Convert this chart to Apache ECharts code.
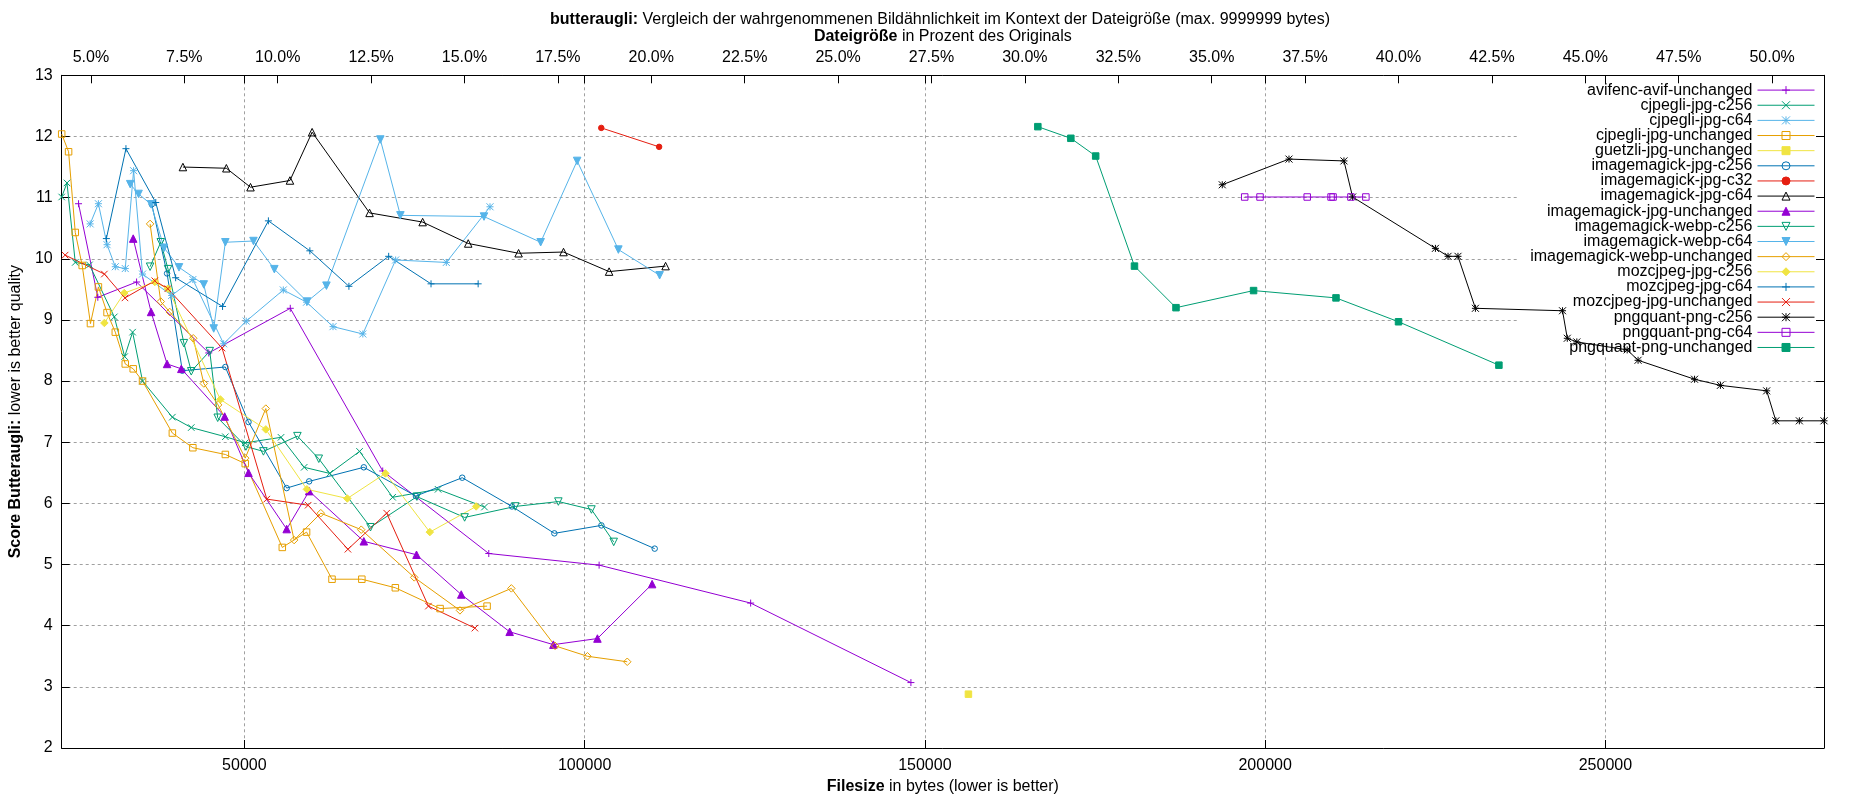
<!DOCTYPE html>
<html>
<head>
<meta charset="utf-8">
<script src="https://cdn.jsdelivr.net/npm/echarts@6/dist/echarts.min.js"></script>
<style>
  html, body { margin: 0; padding: 0; background: #fff; }
  #main { width: 1850px; height: 800px; }
</style>
</head>
<body>
<div id="main"></div>
<script>
// axis ranges / tick labels
const xMin = 23162;
const xMax = 282122;
const originalSize = 549000; // bytes, used for the percent axis on top
const byteTicks = [50000, 100000, 150000, 200000, 250000];
const percentTicks = [5, 7.5, 10, 12.5, 15, 17.5, 20, 22.5, 25, 27.5, 30, 32.5, 35, 37.5, 40, 42.5, 45, 47.5, 50];
const yMin = 2, yMax = 13;

// [filesize bytes, butteraugli score]
const avifencAvifUnchanged = [[25636,10.90],[28469,9.37],[34166,9.62],[44769,8.46],[56749,9.19],[70333,6.53],[85918,5.18],[102133,4.99],[124400,4.37],[147950,3.07]];
const cjpegliJpgC256 = [[23162,11.01],[23941,11.24],[25154,9.94],[27243,9.90],[30894,9.05],[32414,8.40],[33582,8.80],[35042,8.00],[39424,7.41],[42200,7.24],[47210,7.09],[50131,6.99],[55390,7.08],[58793,6.59],[62547,6.49],[66930,6.85],[71794,6.10],[78469,6.23],[85290,5.94]];
const cjpegliJpgC64 = [[27344,10.57],[28557,10.90],[29828,10.23],[31040,9.87],[32501,9.84],[33728,11.44],[35042,9.75],[39322,9.40],[42434,9.66],[46962,8.61],[50278,8.98],[55726,9.49],[59144,9.29],[63029,8.89],[67412,8.77],[72232,9.98],[79681,9.94],[86100,10.85]];
const cjpegliJpgUnchanged = [[23162,12.04],[24175,11.75],[25154,10.43],[26176,9.89],[27388,8.94],[28557,9.54],[29828,9.12],[31040,8.80],[32501,8.28],[33670,8.20],[35042,8.00],[39424,7.15],[42434,6.91],[47210,6.80],[50131,6.65],[55580,5.28],[59144,5.53],[62883,4.76],[67265,4.76],[72188,4.62],[78761,4.28],[85670,4.32]];
const guetzliJpgUnchanged = [[156400,2.88]];
const imagemagickJpgC256 = [[36401,10.89],[38648,9.76],[40885,8.17],[47210,8.23],[50613,7.33],[56223,6.25],[59524,6.36],[67558,6.59],[75211,6.12],[82018,6.42],[89321,5.95],[95558,5.51],[102469,5.64],[110300,5.26]];
const imagemagickJpgC32 = [[102450,12.14],[110950,11.83]];
const imagemagickJpgC64 = [[40973,11.50],[47356,11.48],[50906,11.17],[56705,11.28],[59962,12.07],[68400,10.75],[76200,10.60],[82900,10.25],[90300,10.09],[96900,10.11],[103600,9.79],[111900,9.88]];
const imagemagickJpgUnchanged = [[33670,10.33],[36298,9.13],[38648,8.28],[40739,8.20],[47108,7.42],[50613,6.50],[56223,5.58],[59524,6.20],[67558,5.38],[75300,5.16],[81872,4.51],[88986,3.90],[95413,3.69],[101884,3.79],[109918,4.68]];
const imagemagickWebpC256 = [[36152,9.87],[37715,10.27],[38794,9.83],[41119,8.62],[42200,8.16],[44917,8.49],[46085,7.40],[50234,6.93],[52805,6.85],[57800,7.10],[60940,6.73],[68536,5.61],[75357,6.11],[82369,5.77],[89818,5.95],[96144,6.03],[101007,5.90],[104278,5.37]];
const imagemagickWebpC64 = [[33231,11.22],[34459,11.06],[36298,10.89],[38201,10.18],[40399,9.86],[44040,9.58],[45500,8.86],[47210,10.27],[51344,10.29],[54411,9.83],[59232,9.30],[62065,9.56],[69981,11.95],[72932,10.71],[85217,10.69],[93543,10.27],[98904,11.60],[104966,10.15],[111028,9.73]];
const imagemagickWebpUnchanged = [[36152,10.57],[37715,9.30],[39030,9.13],[42492,8.70],[44049,7.96],[46144,7.61],[50131,6.74],[53155,7.55],[57318,5.40],[61233,5.84],[67178,5.57],[74963,4.79],[81682,4.25],[89235,4.61],[95660,3.67],[100423,3.50],[106266,3.41]];
const mozcjpegJpgC256 = [[29434,8.95],[32355,9.44],[36839,9.62],[38758,9.51],[46480,7.70],[53155,7.21],[59188,6.23],[65132,6.08],[70727,6.49],[77256,5.53],[84064,5.95]];
const mozcjpegJpgC64 = [[29726,10.33],[32604,11.80],[36985,10.92],[39907,9.69],[46800,9.22],[53535,10.62],[59626,10.13],[65366,9.55],[71209,10.04],[77432,9.59],[84356,9.59]];
const mozcjpegJpgUnchanged = [[23668,10.06],[29434,9.75],[32458,9.36],[36839,9.64],[38758,9.51],[46728,8.54],[53301,6.07],[59378,5.97],[65220,5.25],[70917,5.84],[77052,4.32],[83874,3.96]];
const pngquantPngC256 = [[193700,11.21],[203505,11.63],[211582,11.60],[212853,11.01],[225021,10.17],[226876,10.04],[228337,10.04],[230900,9.19],[243700,9.15],[244400,8.70],[245800,8.64],[253200,8.51],[254800,8.34],[263100,8.03],[266900,7.93],[273700,7.84],[275050,7.35],[278500,7.35],[282122,7.35]];
const pngquantPngC64 = [[197000,11.01],[199250,11.01],[206183,11.01],[209688,11.01],[209980,11.01],[212610,11.01],[214801,11.01]];
const pngquantPngUnchanged = [[166600,12.16],[171450,11.97],[175100,11.68],[180800,9.88],[186900,9.20],[198300,9.48],[210412,9.36],[219600,8.97],[234350,8.26]];

// gnuplot default colours
const PURPLE = '#9400d3', GREEN = '#009e73', LIGHTBLUE = '#56b4e9', ORANGE = '#e69f00',
      YELLOW = '#f0e442', BLUE = '#0072b2', RED = '#e51e10', BLACK = '#000000';

// gnuplot point types
const PLUS = 'path://M0,5L10,5M5,0L5,10';
const CROSS = 'path://M0,0L10,10M10,0L0,10';
const STAR = 'path://M0,5L10,5M5,0L5,10M0,0L10,10M10,0L0,10';

// name, data, colour, symbol, size, fill ('line' | 'filled' | 'open'), rotate
const defs = [
  ['avifenc-avif-unchanged', avifencAvifUnchanged, PURPLE, PLUS, 7, 'line', 0],
  ['cjpegli-jpg-c256', cjpegliJpgC256, GREEN, CROSS, 6.5, 'line', 0],
  ['cjpegli-jpg-c64', cjpegliJpgC64, LIGHTBLUE, STAR, 7, 'line', 0],
  ['cjpegli-jpg-unchanged', cjpegliJpgUnchanged, ORANGE, 'rect', 6.5, 'open', 0],
  ['guetzli-jpg-unchanged', guetzliJpgUnchanged, YELLOW, 'rect', 6.5, 'filled', 0],
  ['imagemagick-jpg-c256', imagemagickJpgC256, BLUE, 'circle', 5.5, 'open', 0],
  ['imagemagick-jpg-c32', imagemagickJpgC32, RED, 'circle', 5.5, 'filled', 0],
  ['imagemagick-jpg-c64', imagemagickJpgC64, BLACK, 'triangle', 7.5, 'open', 0],
  ['imagemagick-jpg-unchanged', imagemagickJpgUnchanged, PURPLE, 'triangle', 7.5, 'filled', 0],
  ['imagemagick-webp-c256', imagemagickWebpC256, GREEN, 'triangle', 7.5, 'open', 180],
  ['imagemagick-webp-c64', imagemagickWebpC64, LIGHTBLUE, 'triangle', 7.5, 'filled', 180],
  ['imagemagick-webp-unchanged', imagemagickWebpUnchanged, ORANGE, 'diamond', 7.5, 'open', 0],
  ['mozcjpeg-jpg-c256', mozcjpegJpgC256, YELLOW, 'diamond', 7.5, 'filled', 0],
  ['mozcjpeg-jpg-c64', mozcjpegJpgC64, BLUE, PLUS, 7, 'line', 0],
  ['mozcjpeg-jpg-unchanged', mozcjpegJpgUnchanged, RED, CROSS, 6.5, 'line', 0],
  ['pngquant-png-c256', pngquantPngC256, BLACK, STAR, 7, 'line', 0],
  ['pngquant-png-c64', pngquantPngC64, PURPLE, 'rect', 6.5, 'open', 0],
  ['pngquant-png-unchanged', pngquantPngUnchanged, GREEN, 'rect', 6.5, 'filled', 0]
];

const FONT = 'Liberation Sans, Arial, sans-serif';
const gridLine = { show: true, lineStyle: { color: '#a0a0a0', width: 1, type: [3, 3] } };
const boldRich = { b: { fontSize: 16, fontWeight: 'bold', fontFamily: FONT, color: '#000' } };

const gridLeft = 55.3, gridRight = 26;
const keyRight = 35; // distance of the key samples from the right side of the page

const series = defs.map(([name, data, color, symbol, size, fill, rotate]) => ({
  name: name,
  type: 'line',
  data: data,
  xAxisIndex: 0,
  yAxisIndex: 0,
  symbol: symbol,
  symbolSize: size,
  symbolRotate: rotate,
  symbolKeepAspect: true,
  clip: false,
  lineStyle: { color: color, width: 1 },
  itemStyle: {
    color: fill === 'open' ? 'rgba(255,255,255,0)' : color,
    borderColor: color,
    borderWidth: 1
  },
  emphasis: { disabled: true },
  legendHoverLink: false
}));

// one legend per entry so that texts are right aligned like the gnuplot key
const legends = defs.map((d, i) => ({
  data: [d[0]],
  orient: 'vertical',
  align: 'right',
  right: keyRight,
  top: 90.1 + i * 15.14 - 8,
  padding: 0,
  itemWidth: 57,
  itemHeight: 10,
  selectedMode: false,
  itemStyle: { borderWidth: 1 },
  lineStyle: { width: 1 },
  textStyle: { fontSize: 16, fontFamily: FONT, color: '#000', lineHeight: 16 }
}));

const chart = echarts.init(document.getElementById('main'));
chart.setOption({
  animation: false,
  backgroundColor: '#fff',
  title: {
    text: '{b|butteraugli:} Vergleich der wahrgenommenen Bildähnlichkeit im Kontext der Dateigröße (max. 9999999 bytes)',
    left: 940,
    top: 12,
    padding: 0,
    textAlign: 'center',
    textStyle: { fontSize: 16, fontWeight: 'normal', fontFamily: FONT, color: '#000', rich: boldRich }
  },
  legend: legends,
  grid: { left: gridLeft, right: gridRight, top: 75.3, bottom: 49.3, containLabel: false },
  xAxis: [
    {
      type: 'value',
      position: 'bottom',
      min: xMin,
      max: xMax,
      name: '{b|Filesize} in bytes (lower is better)',
      nameLocation: 'middle',
      nameGap: 31,
      nameTextStyle: { fontSize: 16, fontFamily: FONT, color: '#000', rich: boldRich },
      axisLine: { show: true, lineStyle: { color: '#000', width: 1 } },
      axisTick: { show: true, inside: true, length: 8, customValues: byteTicks, lineStyle: { color: '#000' } },
      axisLabel: {
        customValues: byteTicks, margin: 10, fontSize: 16, fontFamily: FONT, color: '#000',
        formatter: v => String(v)
      },
      splitLine: gridLine
    },
    {
      type: 'value',
      position: 'top',
      min: xMin / originalSize * 100,
      max: xMax / originalSize * 100,
      name: '{b|Dateigröße} in Prozent des Originals',
      nameLocation: 'middle',
      nameGap: 30,
      nameTextStyle: { fontSize: 16, fontFamily: FONT, color: '#000', rich: boldRich },
      axisLine: { show: true, lineStyle: { color: '#000', width: 1 } },
      axisTick: { show: true, inside: true, length: 8, customValues: percentTicks, lineStyle: { color: '#000' } },
      axisLabel: {
        customValues: percentTicks, margin: 10, fontSize: 16, fontFamily: FONT, color: '#000',
        formatter: v => v.toFixed(1) + '%'
      },
      splitLine: { show: false }
    },
    {
      // mirrored byte ticks on the top border
      type: 'value',
      position: 'top',
      min: xMin,
      max: xMax,
      axisLine: { show: false },
      axisTick: { show: true, inside: true, length: 8, customValues: byteTicks, lineStyle: { color: '#000' } },
      axisLabel: { show: false, customValues: byteTicks },
      splitLine: { show: false }
    }
  ],
  yAxis: [
    {
      type: 'value',
      position: 'left',
      min: yMin,
      max: yMax,
      interval: 1,
      name: '{b|Score Butteraugli:} lower is better quality',
      nameLocation: 'middle',
      nameGap: 35.5,
      nameTextStyle: { fontSize: 16, fontFamily: FONT, color: '#000', rich: boldRich },
      axisLine: { show: true, lineStyle: { color: '#000', width: 1 } },
      axisTick: { show: true, inside: true, length: 8, lineStyle: { color: '#000' } },
      axisLabel: { margin: 9, fontSize: 16, fontFamily: FONT, color: '#000' },
      splitLine: gridLine
    },
    {
      type: 'value',
      position: 'right',
      min: yMin,
      max: yMax,
      interval: 1,
      axisLine: { show: true, lineStyle: { color: '#000', width: 1 } },
      axisTick: { show: true, inside: true, length: 8, lineStyle: { color: '#000' } },
      axisLabel: { show: false },
      splitLine: { show: false }
    }
  ],
  graphic: {
    elements: [{
      // the key area hides the grid, as in gnuplot
      type: 'rect',
      silent: true,
      z: 1,
      shape: { x: 1517, y: 84, width: 1850 - gridRight - 8 - 1517, height: 272 },
      style: { fill: '#fff' }
    }]
  },
  series: series
});
</script>
</body>
</html>
